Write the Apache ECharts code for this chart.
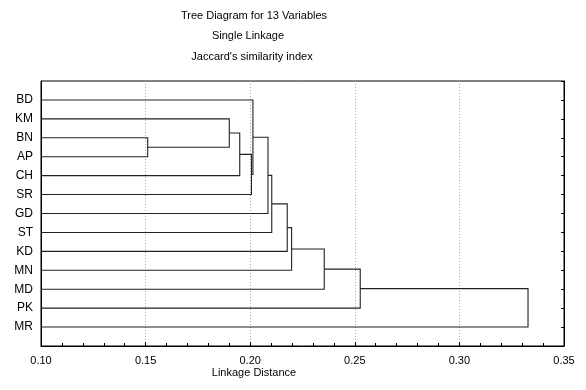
<!DOCTYPE html>
<html>
<head>
<meta charset="utf-8">
<script src="https://cdn.jsdelivr.net/npm/echarts@6/dist/echarts.min.js"></script>
<style>
html,body{margin:0;padding:0;background:#fff;}
#chart{width:586px;height:390px;}
</style>
</head>
<body>
<div id="chart"></div>
<script>
// Leaves (top to bottom)
const leaves = ['BD', 'KM', 'BN', 'AP', 'CH', 'SR', 'GD', 'ST', 'KD', 'MN', 'MD', 'PK', 'MR'];
// Merge steps: cluster Ck is created by merge k (1-based)
const mergeLeft   = ['BN', 'KM', 'C2', 'C3', 'BD', 'C5', 'C6', 'C7', 'C8', 'C9', 'C10', 'C11'];
const mergeRight  = ['AP', 'C1', 'CH', 'SR', 'C4', 'GD', 'ST', 'KD', 'MN', 'MD', 'PK', 'MR'];
const mergeHeight = [0.151, 0.190, 0.195, 0.2006, 0.2013, 0.2085, 0.2103, 0.2177, 0.2198, 0.2354, 0.2526, 0.3328];
const leafBase = 0.10;
const xTicks = [0.10, 0.15, 0.20, 0.25, 0.30, 0.35];

const nodes = {};
leaves.forEach((n, i) => { nodes[n] = { y: i, h: leafBase }; });
const segs = [];
mergeLeft.forEach((a, k) => {
  const b = mergeRight[k];
  const A = nodes[a], B = nodes[b], h = mergeHeight[k];
  segs.push([A.h, A.y, B.h, B.y, h]);
  nodes['C' + (k + 1)] = { y: (A.y + B.y) / 2, h: h };
});

const FONT = 'Liberation Sans, Arial, sans-serif';
function txt(x, y, s) {
  return { type: 'text', x: x, y: y, style: { text: s, font: '11px ' + FONT, fill: '#000', align: 'center', verticalAlign: 'top' } };
}
const chart = echarts.init(document.getElementById('chart'), null, { renderer: 'canvas' });
chart.setOption({
  backgroundColor: '#fff',
  animation: false,
  textStyle: { fontFamily: FONT },
  grid: { left: 41, right: 22, top: 81, bottom: 44, show: true, borderColor: '#000', borderWidth: 1, backgroundColor: 'transparent' },
  graphic: [
    txt(254, 10, 'Tree Diagram for 13 Variables'),
    txt(248, 30, 'Single Linkage'),
    txt(252, 51, "Jaccard's similarity index"),
    txt(254, 367, 'Linkage Distance')
  ],
  xAxis: {
    type: 'value', min: 0.10, max: 0.35, interval: 0.05,
    axisLine: { show: true, onZero: false, lineStyle: { color: '#000', width: 1 } },
    axisTick: { show: true, inside: true, length: 4, lineStyle: { color: '#000' } },
    minorTick: { show: true, splitNumber: 5, length: 3, lineStyle: { color: '#000' } },
    axisLabel: { color: '#000', fontSize: 11, fontFamily: FONT, margin: 9, formatter: v => v.toFixed(2) },
    splitLine: { show: true, lineStyle: { color: '#aaa', type: [1, 2], width: 1 } }
  },
  yAxis: [
    {
      type: 'value', min: -1, max: 13, interval: 1, inverse: true,
      axisLine: { show: true, onZero: false, lineStyle: { color: '#000' } },
      axisTick: { show: false },
      axisLabel: { color: '#000', fontSize: 12, fontFamily: FONT, margin: 8, formatter: v => leaves[v] || '' },
      splitLine: { show: false }
    },
    {
      type: 'value', min: -1, max: 13, interval: 1, inverse: true, position: 'right',
      axisLine: { show: true, onZero: false, lineStyle: { color: '#000' } },
      axisTick: { show: true, inside: true, length: 3, lineStyle: { color: '#000' } },
      axisLabel: { show: false },
      splitLine: { show: false }
    }
  ],
  series: [{
    type: 'custom',
    coordinateSystem: 'cartesian2d',
    xAxisIndex: 0, yAxisIndex: 0,
    data: segs,
    encode: { x: [0, 2, 4], y: [1, 3] },
    renderItem: function (params, api) {
      const hA = api.value(0), yA = api.value(1), hB = api.value(2), yB = api.value(3), hM = api.value(4);
      const pts = [api.coord([hA, yA]), api.coord([hM, yA]), api.coord([hM, yB]), api.coord([hB, yB])];
      return { type: 'polyline', shape: { points: pts }, style: { stroke: '#222', lineWidth: 1.1, fill: null } };
    }
  }]
});
</script>
</body>
</html>
